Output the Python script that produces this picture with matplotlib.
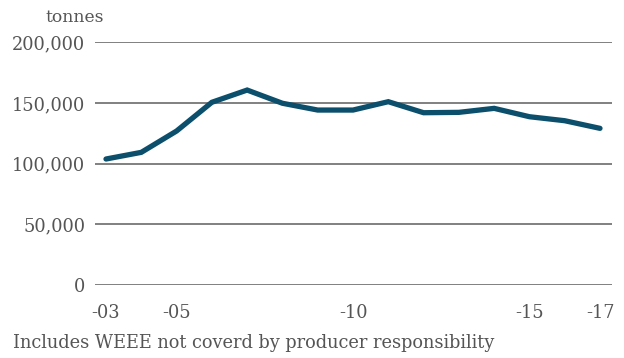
import matplotlib
matplotlib.use("Agg")
import matplotlib.pyplot as plt

years = list(range(2003, 2018))
tonnes = [103700, 109200, 126800, 150500, 160600, 149700, 144100, 144100,
          151000, 141900, 142200, 145500, 138600, 135300, 129000]
y_ticks = [0, 50000, 100000, 150000, 200000]
y_labels = ["0", "50,000", "100,000", "150,000", "200,000"]
x_ticks = [2003, 2005, 2010, 2015, 2017]
x_labels = ["-03", "-05", "-10", "-15", "-17"]

text_color = "#555555"
plt.rcParams["font.family"] = ["DejaVu Serif"]

fig = plt.figure(figsize=(6.24, 3.58), dpi=100)
ax = fig.add_axes([95 / 624, 1 - 284.7 / 358, (611.7 - 95) / 624, (284.7 - 42.3) / 358])

ax.plot(years, tonnes, color="#0b4f6c", linewidth=3.8, solid_capstyle="round",
        solid_joinstyle="miter", zorder=3)

ax.set_xlim(2003 - 11 / 35.29, 2017 + 11.7 / 35.29)
ax.set_ylim(0, 200000)
ax.set_yticks(y_ticks)
ax.set_yticklabels(y_labels)
ax.set_xticks(x_ticks)
ax.set_xticklabels(x_labels)
ax.grid(axis="y", color="#6b6b6b", linewidth=1.2, zorder=1)
ax.tick_params(axis="both", length=0, labelcolor=text_color, labelsize=12.8)
ax.tick_params(axis="y", pad=7)
ax.tick_params(axis="x", pad=14)
for s in ax.spines.values():
    s.set_visible(False)

fig.text(45 / 624, 1 - 18 / 358, "tonnes", color=text_color, fontsize=12.3,
         ha="left", va="center")
fig.text(13 / 624, 1 - 343 / 358, "Includes WEEE not coverd by producer responsibility",
         color=text_color, fontsize=12.8, ha="left", va="center")

fig.savefig("out.png", dpi=100)
